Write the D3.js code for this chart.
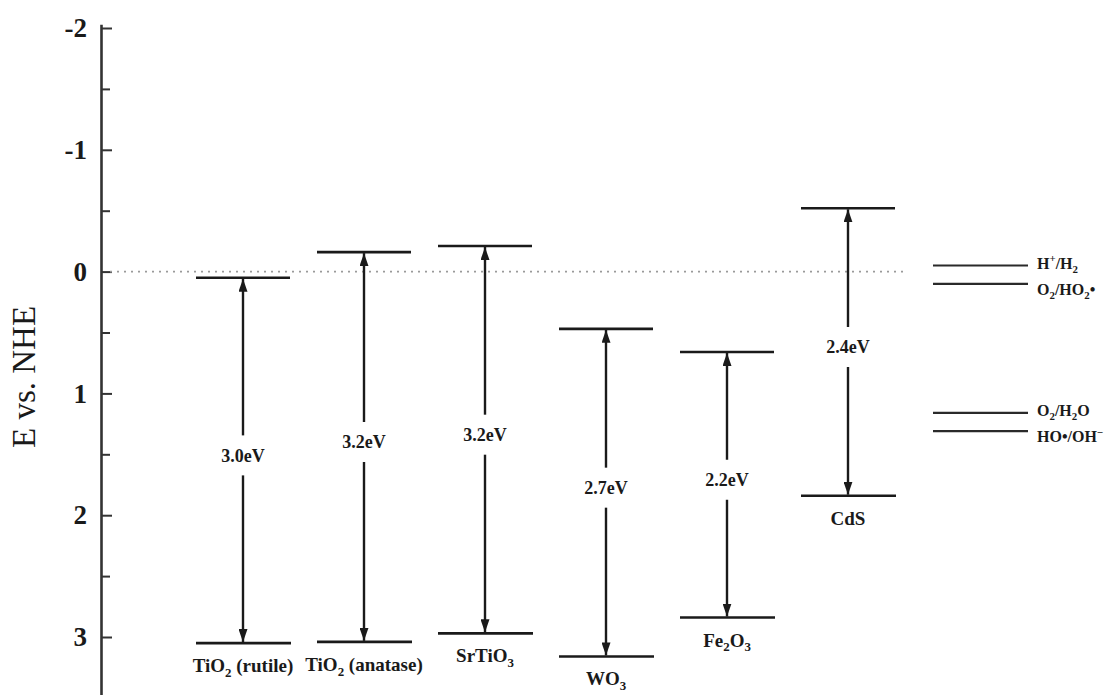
<!DOCTYPE html>
<html><head><meta charset="utf-8">
<script src="https://cdn.jsdelivr.net/npm/d3@7"></script>
<style>body{margin:0;background:#fff}svg{display:block}</style>
</head><body>
<svg id="chart" width="1116" height="695"></svg>
<script>
// ---- data ----
const materials = ["TiO_2 (rutile)", "TiO_2 (anatase)", "SrTiO_3", "WO_3", "Fe_2O_3", "CdS"];
const conductionBand = [0.05, -0.16, -0.21, 0.47, 0.66, -0.52];
const valenceBand = [3.05, 3.04, 2.97, 3.16, 2.84, 1.84];
const bandGapLabels = ["3.0eV", "3.2eV", "3.2eV", "2.7eV", "2.2eV", "2.4eV"];
const redoxCouples = ["H^+/H_2", "O_2/HO_2•", "O_2/H_2O", "HO•/OH^−"];
const redoxPotentials = [-0.05, 0.10, 1.16, 1.31];
const yTicks = [-2, -1, 0, 1, 2, 3];
const yMinorTicks = [-1.5, -0.5, 0.5, 1.5, 2.5];
const yAxisTitle = "E vs. NHE";

// ---- layout ----
const svg = d3.select("#chart");
const FONT = "'Liberation Serif','Times New Roman',serif";
const ink = "#1a1a1a";
const y = d3.scaleLinear().domain([-2, 3]).range([28, 637]);
const x = d3.scalePoint().domain(materials).range([243, 848]);
const axisX = 101;
const halfW = 47;

// rich text helper: _c subscript, ^c superscript
function richText(sel, str, size) {
  const parts = [];
  let i = 0;
  while (i < str.length) {
    const ch = str[i];
    if ((ch === "_" || ch === "^") && i + 1 < str.length) {
      parts.push({t: str[i + 1], m: ch}); i += 2;
    } else {
      let j = i; let s = "";
      while (j < str.length && str[j] !== "_" && str[j] !== "^") { s += str[j]; j++; }
      parts.push({t: s, m: ""}); i = j;
    }
  }
  let shift = 0;
  parts.forEach(p => {
    const ts = sel.append("tspan").text(p.t);
    let target = 0;
    if (p.m === "_") { target = size * 0.25; ts.attr("font-size", size * 0.68); }
    else if (p.m === "^") { target = -size * 0.38; ts.attr("font-size", size * 0.68); }
    if (target !== shift) { ts.attr("dy", target - shift); shift = target; }
  });
}

// arrowhead marker
const defs = svg.append("defs");
defs.append("marker").attr("id", "arr")
  .attr("viewBox", "0 0 13 9").attr("refX", 13).attr("refY", 4.5)
  .attr("markerWidth", 13).attr("markerHeight", 9)
  .attr("markerUnits", "userSpaceOnUse")
  .attr("orient", "auto-start-reverse")
  .append("path").attr("d", "M0,0 L13,4.5 L0,9 Z").attr("fill", ink);

// y axis
const yAxisScale = y.copy().domain([-2.03, 3.5]).range([y(-2.03), y(3.5)]);
const gAxis = svg.append("g").attr("transform", `translate(${axisX},0)`);
const gMajor = gAxis.append("g").call(d3.axisLeft(yAxisScale).tickValues(yTicks)
  .tickFormat(d => d < 0 ? "-" + Math.abs(d) : String(d))
  .tickSizeInner(-11).tickSizeOuter(0).tickPadding(14));
const gMinor = gAxis.append("g").call(d3.axisLeft(yAxisScale).tickValues(yMinorTicks)
  .tickFormat(() => "").tickSizeInner(-9).tickSizeOuter(0));
gMinor.select(".domain").remove();
gAxis.selectAll(".domain").attr("stroke", "#333").attr("stroke-width", 2.6);
gAxis.selectAll(".tick line").attr("stroke", "#333").attr("stroke-width", 2);
gMajor.selectAll(".tick text").attr("font-family", FONT).attr("font-size", 27)
  .attr("font-weight", "bold").attr("fill", ink);

// axis title
svg.append("text").attr("transform", `translate(35,${377}) rotate(-90)`)
  .attr("text-anchor", "middle").attr("font-family", FONT).attr("font-size", 33)
  .attr("fill", ink).text(yAxisTitle);

// dotted zero line
svg.append("line").attr("x1", 110).attr("x2", 906).attr("y1", y(0)).attr("y2", y(0))
  .attr("stroke", "#9a9a9a").attr("stroke-width", 1.6).attr("stroke-dasharray", "2,5");

// bands
materials.forEach((m, i) => {
  const cx = x(m);
  const yc = y(conductionBand[i]), yv = y(valenceBand[i]);
  const g = svg.append("g");
  g.append("line").attr("x1", cx - halfW).attr("x2", cx + halfW).attr("y1", yc).attr("y2", yc)
    .attr("stroke", ink).attr("stroke-width", 2.6);
  g.append("line").attr("x1", cx - halfW).attr("x2", cx + halfW + 1).attr("y1", yv).attr("y2", yv)
    .attr("stroke", ink).attr("stroke-width", 2.6);
  const ly = y((conductionBand[i] + valenceBand[i]) / 2) - 5;
  g.append("line").attr("x1", cx).attr("x2", cx).attr("y1", yc + 1).attr("y2", ly - 20)
    .attr("stroke", ink).attr("stroke-width", 2.4).attr("marker-start", "url(#arr)");
  g.append("line").attr("x1", cx).attr("x2", cx).attr("y1", ly + 20).attr("y2", yv - 1)
    .attr("stroke", ink).attr("stroke-width", 2.4).attr("marker-end", "url(#arr)");
  g.append("text").attr("x", cx).attr("y", ly).attr("dy", "0.35em").attr("text-anchor", "middle")
    .attr("font-family", FONT).attr("font-size", 18).attr("font-weight", "bold")
    .attr("fill", ink).text(bandGapLabels[i]);
  const t = g.append("text").attr("x", cx).attr("y", yv + 29).attr("text-anchor", "middle")
    .attr("font-family", FONT).attr("font-size", 19).attr("font-weight", "bold").attr("fill", ink);
  richText(t, m, 19);
});

// redox couples (lower label of each close pair nudged down a little, as in the original)
redoxCouples.forEach((r, i) => {
  const yy = y(redoxPotentials[i]);
  svg.append("line").attr("x1", 933).attr("x2", 1028).attr("y1", yy).attr("y2", yy)
    .attr("stroke", "#2a2a2a").attr("stroke-width", 2.2);
  const t = svg.append("text").attr("x", 1037).attr("y", yy + (i % 2 ? 11 : 3))
    .attr("font-family", FONT).attr("font-size", 16).attr("font-weight", "bold").attr("fill", ink);
  richText(t, r, 16);
});
</script>
</body></html>
